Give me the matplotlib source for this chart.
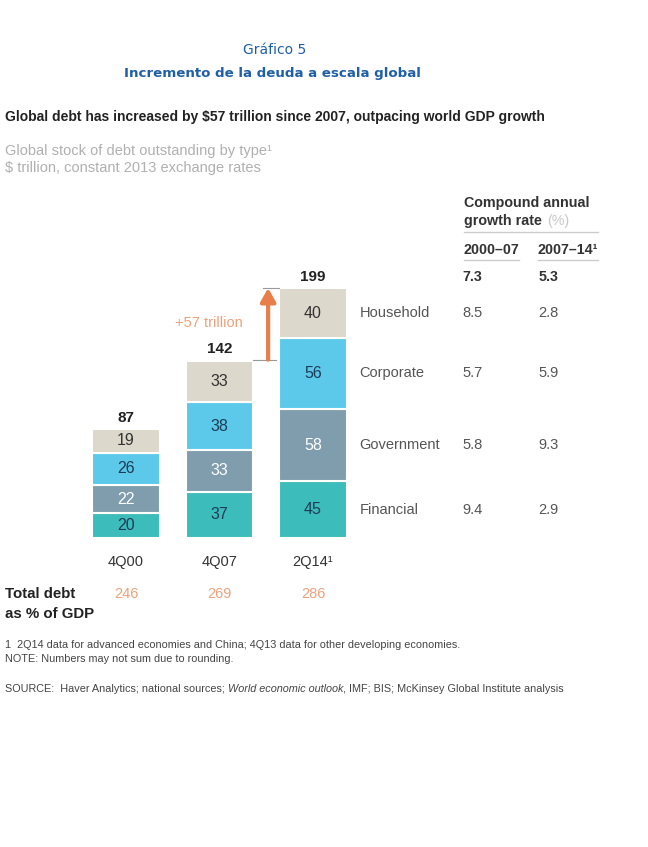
import matplotlib
matplotlib.use("Agg")
import matplotlib.pyplot as plt
import matplotlib.transforms as mtransforms

# ========== data ==========
periods = ["4Q00", "4Q07", "2Q14\u00b9"]
debt_types = ["Financial", "Government", "Corporate", "Household"]  # bottom -> top
financial = [20, 37, 45]
government = [22, 33, 58]
corporate = [26, 38, 56]
household = [19, 33, 40]
totals = [87, 142, 199]
debt_pct_gdp = ["246", "269", "286"]
cagr_0007 = ["9.4", "5.8", "5.7", "8.5"]   # same order as debt_types
cagr_0714 = ["2.9", "9.3", "5.9", "2.8"]
cagr_total = ["7.3", "5.3"]
increase_label = "+57 trillion"

colors = {"Financial": "#3dbcbc", "Government": "#7f9dac",
          "Corporate": "#5cc9eb", "Household": "#dcd8cb"}
num_colors = {"Financial": "#1d3c55", "Government": "#ffffff",
              "Corporate": "#1d3c55", "Household": "#333333"}

plt.rcParams['font.family'] = ['Liberation Sans', 'DejaVu Sans']

W, H = 648, 847
fig = plt.figure(figsize=(W / 100, H / 100), dpi=100)


def fx(px):
    return px / W


def fy(py):
    return 1 - py / H


# titulo en español
fig.text(fx(275), fy(50), "Gráfico 5", color="#1f5fa8", fontsize=10,
         ha="center", va="center", family=["DejaVu Sans"])
fig.text(fx(272), fy(74), "Incremento de la deuda a escala global", color="#1f5fa8",
         fontsize=9.6, fontweight="bold", ha="center", va="center", family=["DejaVu Sans"])

fig.text(fx(5), fy(117), "Global debt has increased by $57 trillion since 2007, outpacing world GDP growth",
         fontsize=10, fontweight="bold", color="#222222", ha="left", va="center")
fig.text(fx(5), fy(151), "Global stock of debt outstanding by type\u00b9", fontsize=10.5,
         color="#b0b0b0", ha="left", va="center")
fig.text(fx(5), fy(168), "$ trillion, constant 2013 exchange rates", fontsize=10.5,
         color="#b0b0b0", ha="left", va="center")

# ========== stacked bars ==========
# x data 0..2 -> px 126 + 93.5*i ; y 0 -> px 538, 1.256 px per unit
ax = fig.add_axes([fx(79.25), fy(538), 280.5 / W, 220 * 1.256 / H])
ax.set_xlim(-0.5, 2.5)
ax.set_ylim(0, 220)
ax.axis("off")

x = range(len(periods))
bw = 0.72
series = {"Financial": financial, "Government": government,
          "Corporate": corporate, "Household": household}
bottom = [0, 0, 0]
mids_last = {}
for name in debt_types:
    vals = series[name]
    ax.bar(x, vals, bw, bottom=bottom, color=colors[name], edgecolor="white", linewidth=1.5)
    for i, v in enumerate(vals):
        ax.text(i, bottom[i] + v / 2, str(v), ha="center", va="center",
                fontsize=11.5, color=num_colors[name])
    mids_last[name] = bottom[-1] + vals[-1] / 2
    bottom = [b + v for b, v in zip(bottom, vals)]

for i, t in enumerate(totals):
    ax.text(i, t + 3, str(t), ha="center", va="bottom", fontsize=11,
            fontweight="bold", color="#222222")

# +57 trillion arrow
xa = 1.52
ax.plot([1 + bw / 2, xa + 0.08], [totals[1], totals[1]], color="#999999", lw=0.8)
ax.plot([xa - 0.05, 2 - bw / 2], [totals[2], totals[2]], color="#999999", lw=0.8)
ax.annotate("", xy=(xa, totals[2]), xytext=(xa, totals[1]),
            arrowprops=dict(arrowstyle="-|>,head_width=0.45,head_length=0.8",
                            color="#e87e4a", lw=3, shrinkA=0, shrinkB=0))
ax.text(1.25, 171, increase_label, ha="right", va="center", fontsize=10.5, color="#eba27c")

# period labels
for i, p in enumerate(periods):
    ax.text(i, -19, p, ha="center", va="center", fontsize=10.5, color="#333333")

# total debt as % of GDP
tr = mtransforms.blended_transform_factory(ax.transData, fig.transFigure)
fig.text(fx(5), fy(594), "Total debt", fontsize=10.8, fontweight="bold", color="#222222",
         ha="left", va="center")
fig.text(fx(5), fy(614), "as % of GDP", fontsize=10.8, fontweight="bold", color="#222222",
         ha="left", va="center")
for i, v in enumerate(debt_pct_gdp):
    ax.text(i, fy(594), v, transform=tr, ha="center", va="center", fontsize=10.5,
            color="#eba27c")

# ========== growth table ==========
xc1, xc2 = 3.60, 4.41
for k, name in enumerate(debt_types):
    y = mids_last[name]
    ax.text(2.50, y, name, ha="left", va="center", fontsize=10.5, color="#555555", clip_on=False)
    ax.text(xc1, y, cagr_0007[k], ha="left", va="center", fontsize=10.5, color="#555555", clip_on=False)
    ax.text(xc2, y, cagr_0714[k], ha="left", va="center", fontsize=10.5, color="#555555", clip_on=False)

fig.text(fx(464), fy(203), "Compound annual", fontsize=10.3, fontweight="bold",
         color="#333333", ha="left", va="center")
fig.text(fx(464), fy(221), "growth rate", fontsize=10.3, fontweight="bold",
         color="#333333", ha="left", va="center")
fig.text(fx(547), fy(221), "(%)", fontsize=10.3, color="#c8c8c8", ha="left", va="center")
fig.add_artist(plt.Line2D([fx(464), fx(598)], [fy(232), fy(232)], color="#cccccc", lw=1))
fig.text(fx(464), fy(250), "2000\u201307", fontsize=10.3, fontweight="bold",
         color="#333333", ha="left", va="center")
fig.text(fx(538), fy(250), "2007\u201314\u00b9", fontsize=10.3, fontweight="bold",
         color="#333333", ha="left", va="center")
fig.add_artist(plt.Line2D([fx(464), fx(519)], [fy(260), fy(260)], color="#cccccc", lw=1))
fig.add_artist(plt.Line2D([fx(538), fx(598)], [fy(260), fy(260)], color="#cccccc", lw=1))
ax.text(xc1, fy(277), cagr_total[0], transform=tr, fontsize=10.3, fontweight="bold",
        color="#333333", ha="left", va="center")
ax.text(xc2, fy(277), cagr_total[1], transform=tr, fontsize=10.3, fontweight="bold",
        color="#333333", ha="left", va="center")

# ========== notes ==========
fig.text(fx(5), fy(645), "1  2Q14 data for advanced economies and China; 4Q13 data for other developing economies.",
         fontsize=7.8, color="#444444", ha="left", va="center")
fig.text(fx(5), fy(659), "NOTE: Numbers may not sum due to rounding.",
         fontsize=7.8, color="#444444", ha="left", va="center")

# source line in pieces (italic title in the middle)
renderer = fig.canvas.get_renderer()
source_parts = [("SOURCE:  Haver Analytics; national sources; ", "normal"),
                ("World economic outlook", "italic"),
                (", IMF; BIS; McKinsey Global Institute analysis", "normal")]
xpos = 5
for txt, style in source_parts:
    t = fig.text(fx(xpos), fy(689), txt, fontsize=7.8, style=style, color="#444444",
                 ha="left", va="center")
    xpos += t.get_window_extent(renderer).width

plt.savefig("out.png", dpi=100)
